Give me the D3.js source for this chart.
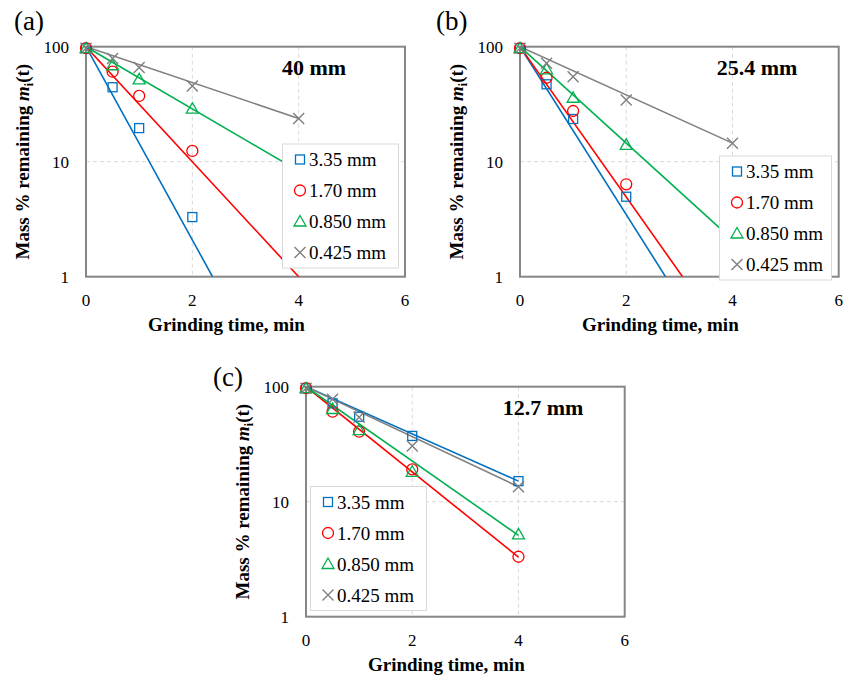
<!DOCTYPE html>
<html>
<head>
<meta charset="utf-8">
<script src="https://cdn.jsdelivr.net/npm/d3@7"></script>
<style>
body { margin: 0; background: #fff; }
text { font-family: "Liberation Serif", "Times New Roman", serif; fill: #000; }
</style>
</head>
<body>
<svg width="853" height="678"></svg>
<script>
var times = [0, 0.5, 1, 2, 4];
var sizes = ["3.35 mm", "1.70 mm", "0.850 mm", "0.425 mm"];
var colors = ["#0070C0", "#FF0000", "#00B050", "#7F7F7F"];
var symbols = ["square", "circle", "triangle", "cross"];
var xTicks = [0, 2, 4, 6];
var yTicks = [1, 10, 100];

// (a) 40 mm ball size - mass % remaining, one row per size class
var massA = [
  [97, 44.4, 19.6, 3.3, null],
  [97, 60.6, 37.3, 12.4, null],
  [97, 69, 52, 28.9, 8.3],
  [97, 79, 66, 45.5, 23.8]
];
// first order fit lines, two end points [t, m]
var fitA = [
  [[0, 100], [2.38, 1]],
  [[0, 100], [4.0, 1]],
  [[0, 100], [4, 8.3]],
  [[0, 100], [4, 23.8]]
];

// (b) 25.4 mm
var massB = [
  [97, 47.1, 23.5, 4.96, null],
  [97, 53.7, 27.6, 6.36, null],
  [97, 63.6, 36, 14.0, 2.1],
  [97, 71.7, 54.9, 34.4, 14.5]
];
var fitB = [
  [[0, 100], [2.74, 1]],
  [[0, 100], [3.06, 1]],
  [[0, 100], [4, 2.1]],
  [[0, 100], [4, 14.5]]
];

// (c) 12.7 mm
var massC = [
  [97, 71.7, 54.8, 37.3, 15.1],
  [97, 60.6, 40.6, 19.1, 3.32],
  [97, 64, 42, 18.2, 5.2],
  [97, 77.7, 54.2, 30.5, 13.5]
];
var fitC = [
  [[0, 100], [4, 15.1]],
  [[0, 100], [4, 3.3]],
  [[0, 100], [4, 5.1]],
  [[0, 100], [4, 13.5]]
];

var svg = d3.select("svg");

function marker(g, type, color) {
  if (type == "square") {
    g.append("rect").attr("x", -4.5).attr("y", -4.5).attr("width", 9).attr("height", 9)
      .attr("fill", "none").attr("stroke", color).attr("stroke-width", 1.3);
  } else if (type == "circle") {
    g.append("circle").attr("r", 5.5)
      .attr("fill", "none").attr("stroke", color).attr("stroke-width", 1.3);
  } else if (type == "triangle") {
    g.append("path").attr("d", "M0,-6L6,4.5L-6,4.5Z")
      .attr("fill", "none").attr("stroke", color).attr("stroke-width", 1.3);
  } else {
    g.append("path").attr("d", "M-5.5,-5.5L5.5,5.5M-5.5,5.5L5.5,-5.5")
      .attr("fill", "none").attr("stroke", color).attr("stroke-width", 1.4);
  }
}

function drawPanel(p) {
  var x = d3.scaleLinear().domain([0, 6]).range([p.left, p.right]);
  var y = d3.scaleLog().domain([1, 100]).range([p.bottom, p.top]);
  var g = svg.append("g");
  var clipId = "clip" + p.id;

  g.append("clipPath").attr("id", clipId).append("rect")
    .attr("x", p.left).attr("y", p.top)
    .attr("width", p.right - p.left).attr("height", p.bottom - p.top);

  // grid
  g.selectAll(".vgrid").data([2, 4]).enter().append("line")
    .attr("x1", function(d) { return x(d); }).attr("x2", function(d) { return x(d); })
    .attr("y1", p.top).attr("y2", p.bottom)
    .attr("stroke", "#d9d9d9").attr("stroke-dasharray", "4,3");
  g.append("line")
    .attr("x1", p.left).attr("x2", p.right).attr("y1", y(10)).attr("y2", y(10))
    .attr("stroke", "#d9d9d9").attr("stroke-dasharray", "4,3");

  // frame
  g.append("rect").attr("x", p.left).attr("y", p.top)
    .attr("width", p.right - p.left).attr("height", p.bottom - p.top)
    .attr("fill", "none").attr("stroke", "#868686").attr("stroke-width", 2);

  // tick labels
  g.selectAll(".xt").data(xTicks).enter().append("text")
    .attr("x", function(d) { return x(d); }).attr("y", p.bottom + 29)
    .attr("text-anchor", "middle").style("font-size", "17px")
    .text(function(d) { return d; });
  g.selectAll(".yt").data(yTicks).enter().append("text")
    .attr("x", p.left - 17).attr("y", function(d) { return y(d) + 6; })
    .attr("text-anchor", "end").style("font-size", "17px")
    .text(function(d) { return d; });

  // axis titles
  g.append("text").attr("x", (p.left + p.right) / 2 - 19).attr("y", p.bottom + 54)
    .attr("text-anchor", "middle").style("font-size", "19px").style("font-weight", "bold")
    .text("Grinding time, min");
  var yt = g.append("text")
    .attr("transform", "translate(" + (p.left - 57) + "," + ((p.top + p.bottom) / 2) + ") rotate(-90)")
    .attr("text-anchor", "middle").style("font-size", "19px").style("font-weight", "bold");
  yt.append("tspan").text("Mass % remaining ");
  yt.append("tspan").style("font-style", "italic").text("m");
  yt.append("tspan").attr("dy", 4).style("font-size", "12px").text("i");
  yt.append("tspan").attr("dy", -4).text("(t)");

  // fit lines
  var line = d3.line().x(function(d) { return x(d[0]); }).y(function(d) { return y(d[1]); });
  g.append("g").attr("clip-path", "url(#" + clipId + ")")
    .selectAll("path").data(p.fit).enter().append("path")
    .attr("d", line).attr("fill", "none")
    .attr("stroke", function(d, i) { return colors[i]; }).attr("stroke-width", 1.6);

  // markers
  p.mass.forEach(function(row, i) {
    row.forEach(function(v, j) {
      if (v == null) return;
      var m = g.append("g").attr("transform", "translate(" + x(times[j]) + "," + y(v) + ")");
      marker(m, symbols[i], colors[i]);
    });
  });

  // legend
  var lg = g.append("g");
  lg.append("rect").attr("x", p.legX).attr("y", p.legY).attr("width", p.legW).attr("height", 124)
    .attr("fill", "#fff").attr("stroke", "#d9d9d9");
  sizes.forEach(function(s, i) {
    var cy = p.legY + 15.5 + i * 31;
    var m = lg.append("g").attr("transform", "translate(" + (p.legX + 17.5) + "," + cy + ")");
    marker(m, symbols[i], colors[i]);
    lg.append("text").attr("x", p.legX + 26.5).attr("y", cy + 6.5)
      .style("font-size", "19px").text(s);
  });

  // panel title and label
  g.append("text").attr("x", p.titleX).attr("y", p.top + 28.5)
    .attr("text-anchor", "middle").style("font-size", "22px").style("font-weight", "bold")
    .text(p.title);
  g.append("text").attr("x", p.labX).attr("y", p.labY).style("font-size", "27px").text(p.label);
}

drawPanel({ id: "a", label: "(a)", title: "40 mm", mass: massA, fit: fitA,
  left: 86, right: 405, top: 46.7, bottom: 276.7, titleX: 314, labX: 14, labY: 30,
  legX: 282.5, legY: 144, legW: 116 });
drawPanel({ id: "b", label: "(b)", title: "25.4 mm", mass: massB, fit: fitB,
  left: 520, right: 838.7, top: 46.7, bottom: 276.7, titleX: 757, labX: 436, labY: 30,
  legX: 719.5, legY: 156, legW: 112 });
drawPanel({ id: "c", label: "(c)", title: "12.7 mm", mass: massC, fit: fitC,
  left: 306, right: 624.7, top: 386.7, bottom: 616.7, titleX: 543, labX: 213, labY: 386,
  legX: 310.5, legY: 486.5, legW: 116 });
</script>
</body>
</html>
